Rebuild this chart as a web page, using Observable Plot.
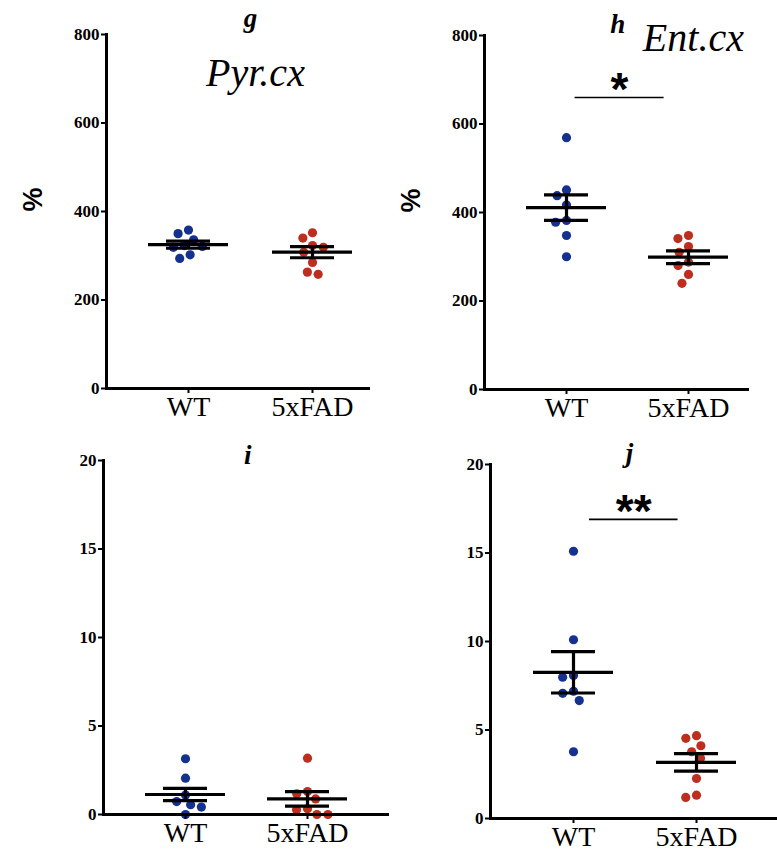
<!DOCTYPE html>
<html><head><meta charset="utf-8">
<script src="https://cdn.jsdelivr.net/npm/d3@7"></script>
<script src="https://cdn.jsdelivr.net/npm/@observablehq/plot@0.6"></script>
<style>
body{margin:0;background:#fff}
#wrap{position:relative;width:777px;height:851px;overflow:hidden;background:#fff}
#wrap svg{position:absolute;background:transparent;max-width:none}
</style></head><body><div id="wrap"></div>
<script>
// ---- data ----
const groups = ["WT", "5xFAD"];
const groupColors = ["#15318f", "#bd2e1f"];
const panelLetters = ["g", "h", "i", "j"];
const regionNames = ["Pyr.cx", "Ent.cx", "", ""];
const yTicksPct = [0, 200, 400, 600, 800];
const yTicksSmall = [0, 5, 10, 15, 20];

const gWT  = [358, 336, 350, 321, 323, 319, 302, 294];
const gFAD = [352, 340, 323, 319, 308, 285, 258, 263];
const gMean = [325, 308];
const gSem  = [8, 12.5];

const hWT  = [569, 451, 438, 417, 378, 382, 348, 300];
const hFAD = [348, 341, 323, 310, 288, 280, 260, 240];
const hMean = [411, 299];
const hSem  = [29, 14.5];

const iWT  = [3.15, 2.05, 1.1, 0.55, 0.73, 0.42, 0];
const iFAD = [3.18, 1.17, 1.3, 0.88, 0.27, 0.32, 0, 0];
const iMean = [1.13, 0.88];
const iSem  = [0.35, 0.41];

const jWT  = [15.1, 10.1, 7.98, 8.08, 7.07, 7.19, 6.66, 3.77];
const jFAD = [4.68, 4.53, 4.11, 3.77, 3.4, 2.26, 1.32, 1.19];
const jMean = [8.26, 3.17];
const jSem  = [1.17, 0.49];

// significance bars: [from, to, level], label
const hSig = [0.07, 0.80, 660]; const hSigLabel = "*";
const jSig = [0.13, 0.85, 16.9]; const jSigLabel = "**";

// ---- layout ----
const panels = [
  {id:"g", left:0,   top:0,   width:390, height:420, mL:106, mR:22, mT:34, mB:32, xr:[188,312], ymax:800, ticks:yTicksPct,   pct:true,  series:[gWT,gFAD], mean:gMean, sem:gSem, titleX:0.5,  titleDy:-8, regionX:0.54, regionDy:51},
  {id:"h", left:390, top:0,   width:387, height:420, mL:94,  mR:30, mT:35, mB:31, xr:[176,298], ymax:800, ticks:yTicksPct,   pct:true,  series:[hWT,hFAD], mean:hMean, sem:hSem, titleX:0.42, titleDy:-3, regionX:1.04, regionDy:15, sig:hSig, sigLabel:hSigLabel},
  {id:"i", left:0,   top:420, width:390, height:431, mL:103, mR:3,  mT:40, mB:37, xr:[185,307], ymax:20,  ticks:yTicksSmall, pct:false, series:[iWT,iFAD], mean:iMean, sem:iSem, titleX:0.51, titleDy:3},
  {id:"j", left:390, top:420, width:387, height:431, mL:100, mR:0,  mT:44, mB:33, xr:[183,306], ymax:20,  ticks:yTicksSmall, pct:false, series:[jWT,jFAD], mean:jMean, sem:jSem, titleX:0.455, titleDy:-3, sig:jSig, sigLabel:jSigLabel}
];

const R = 4.6, DIAM = 11;
function swarm(values, pxPerUnit) {
  const order = values.map((v, i) => i).sort((a, b) => values[b] - values[a]);
  const placed = [], off = new Array(values.length);
  for (const i of order) {
    const y = values[i] * pxPerUnit;
    const cands = [0];
    for (const p of placed) {
      const dy = Math.abs(p.y - y);
      if (dy < DIAM) { const dx = Math.sqrt(DIAM * DIAM - dy * dy); cands.push(p.x + dx, p.x - dx); }
    }
    cands.sort((a, b) => Math.abs(a) - Math.abs(b) || a - b);
    const x = cands.find(c => placed.every(p => (p.x - c) ** 2 + (p.y - y) ** 2 >= DIAM * DIAM - 1e-6));
    placed.push({x, y}); off[i] = x;
  }
  return off;
}

const serif = "'Liberation Serif', 'Times New Roman', serif";
const sans = "'Liberation Sans', Arial, sans-serif";
const wrap = document.getElementById("wrap");

panels.forEach((cfg, pi) => {
  const pxX = cfg.xr[1] - cfg.xr[0];              // px per x unit
  const pxY = (cfg.height - cfg.mT - cfg.mB) / cfg.ymax;
  const marks = [];
  cfg.series.forEach((vals, gi) => {
    const offs = swarm(vals, pxY);
    const pts = vals.map((v, k) => ({x: gi + offs[k] / pxX, v}));
    marks.push(Plot.dot(pts, {x: "x", y: "v", r: R, fill: groupColors[gi], stroke: "none"}));
  });
  const stats = groups.map((g, gi) => ({i: gi, m: cfg.mean[gi], s: cfg.sem[gi]}));
  const halfMean = 40 / pxX, halfCap = 22 / pxX;
  marks.push(
    Plot.ruleX(stats, {x: "i", y1: d => d.m - d.s, y2: d => d.m + d.s, strokeWidth: 3.2, stroke: "#000"}),
    Plot.ruleY(stats, {x1: d => d.i - halfMean, x2: d => d.i + halfMean, y: "m", strokeWidth: 3.2, stroke: "#000"}),
    Plot.ruleY(stats, {x1: d => d.i - halfCap, x2: d => d.i + halfCap, y: d => d.m + d.s, strokeWidth: 3.2, stroke: "#000"}),
    Plot.ruleY(stats, {x1: d => d.i - halfCap, x2: d => d.i + halfCap, y: d => d.m - d.s, strokeWidth: 3.2, stroke: "#000"})
  );
  marks.push(
    Plot.frame({anchor: "left", strokeWidth: 3, stroke: "#000"}),
    Plot.frame({anchor: "bottom", strokeWidth: 3, stroke: "#000"}),
    Plot.axisY({ticks: cfg.ticks, tickSize: 5, tickPadding: 2, fontSize: 17, fontWeight: "bold", fontFamily: serif, strokeWidth: 2, label: null, tickFormat: d => String(d)}),
    Plot.axisX({ticks: [0, 1], tickFormat: i => groups[i], tickSize: 5, tickPadding: 3, fontSize: 28, fontFamily: serif, strokeWidth: 2, label: null})
  );
  marks.push(Plot.text([panelLetters[pi]], {x: cfg.titleX, frameAnchor: "top", lineAnchor: "bottom", dy: cfg.titleDy, fontSize: 27, fontStyle: "italic", fontWeight: "bold", fontFamily: serif, fill: "#000"}));
  if (regionNames[pi]) {
    marks.push(Plot.text([regionNames[pi]], {x: cfg.regionX, frameAnchor: "top", lineAnchor: "bottom", dy: cfg.regionDy, fontSize: 40, fontStyle: "italic", fontFamily: serif, fill: "#000"}));
  }
  if (cfg.pct) {
    marks.push(Plot.text(["%"], {frameAnchor: "left", dx: -73, rotate: -90, fontSize: 27, fontWeight: "bold", fontFamily: sans, fill: "#000"}));
  }
  if (cfg.sig) {
    const s = [{x1: cfg.sig[0], x2: cfg.sig[1], y: cfg.sig[2], t: cfg.sigLabel}];
    marks.push(
      Plot.ruleY(s, {x1: "x1", x2: "x2", y: "y", strokeWidth: 1.6, stroke: "#000"}),
      Plot.text(s, {x: d => (d.x1 + d.x2) / 2, y: "y", text: "t", lineAnchor: "bottom", dy: 8, fontSize: 46, fontWeight: "bold", fontFamily: sans, fill: "#000"})
    );
  }
  const svg = Plot.plot({
    width: cfg.width, height: cfg.height,
    marginLeft: cfg.mL, marginRight: cfg.mR, marginTop: cfg.mT, marginBottom: cfg.mB,
    x: {type: "linear", domain: [0, 1], range: cfg.xr},
    y: {domain: [0, cfg.ymax]},
    style: {background: "transparent", color: "#000", overflow: "visible"},
    marks
  });
  svg.style.left = cfg.left + "px";
  svg.style.top = cfg.top + "px";
  wrap.appendChild(svg);
});
</script>
</body></html>
